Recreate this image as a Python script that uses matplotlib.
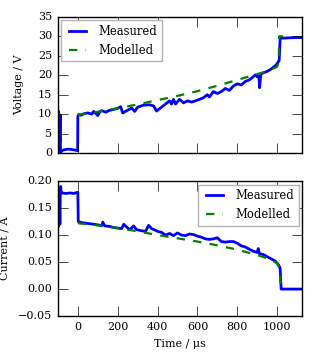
import matplotlib
matplotlib.use("Agg")
import matplotlib.pyplot as plt

# measured voltage (time in us, volts)
t_vm = [-100, -99, -98, -97, -96, -95, -94, -93, -92, -91, -89, -88, -87, -84, -80, -70, -50, -30, -10, -1,
        0, 5, 15, 30, 50, 70, 80, 90, 100, 110, 120, 140, 160, 180, 200, 215, 225, 235, 250, 270, 285,
        300, 330, 360, 380, 395, 420, 440, 460, 470, 480, 490, 510, 530, 550, 570, 590, 610, 630, 650,
        660, 680, 700, 720, 740, 760, 780, 800, 820, 840, 860, 880, 890, 900, 908, 912, 918, 930, 950,
        970, 990, 1000, 1010, 1013, 1015, 1050, 1100, 1125]
v_m = [10.5, 1.0, 10.8, 2.0, 10.0, 0.5, 9.8, 1.0, 9.5, 3.0, 9.8, 5.0, 0.3, 0.2, 0.6, 0.8, 1.0, 0.9, 0.7, 0.6,
       9.5, 9.9, 9.7, 10.1, 10.3, 10.0, 10.7, 10.2, 9.6, 10.6, 10.9, 10.5, 11.0, 11.2, 11.5, 11.9, 10.3, 10.6, 11.0, 11.6, 10.7,
       11.8, 12.3, 12.4, 12.1, 10.8, 11.8, 12.6, 13.4, 12.6, 13.8, 12.6, 13.8, 12.9, 13.4, 13.1, 13.4, 13.8, 14.2, 15.0,
       14.4, 15.8, 15.3, 15.8, 16.6, 16.1, 17.2, 17.8, 17.5, 18.4, 18.8, 19.6, 20.1, 19.6, 19.8, 16.8, 20.3, 20.6, 21.0,
       21.6, 22.4, 23.0, 23.8, 27.0, 29.5, 29.6, 29.7, 29.7]

# modelled voltage
t_vmod = [0, 100, 200, 300, 400, 500, 600, 700, 800, 900, 950, 1000, 1008, 1010, 1030]
v_mod = [9.8, 10.6, 11.5, 12.5, 13.6, 14.7, 15.9, 17.3, 18.8, 20.3, 21.0, 22.2, 23.5, 30.0, 30.0]

# measured current (A)
t_im = [-100, -99, -98, -97, -96, -95, -94, -93, -92, -90, -88, -86, -84, -80, -60, -40, -20, -5, 0,
        2, 20, 40, 60, 80, 100, 120, 125, 135, 160, 180, 200, 220, 230, 245, 260, 280, 295, 320, 340,
        355, 370, 400, 420, 440, 460, 480, 500, 520, 540, 560, 580, 600, 620, 640, 660, 680, 700, 720,
        740, 760, 780, 800, 820, 840, 860, 880, 900, 905, 910, 930, 950, 970, 990, 1000, 1010, 1015,
        1020, 1050, 1125]
i_m = [0.140, 0.115, 0.180, 0.120, 0.170, 0.125, 0.175, 0.130, 0.165, 0.120, 0.175, 0.190, 0.180, 0.178, 0.177, 0.178, 0.177, 0.179, 0.179,
       0.125, 0.123, 0.122, 0.121, 0.120, 0.119, 0.117, 0.124, 0.117, 0.116, 0.114, 0.113, 0.112, 0.120, 0.115, 0.110, 0.117, 0.110, 0.108, 0.107,
       0.118, 0.112, 0.107, 0.105, 0.100, 0.103, 0.099, 0.104, 0.100, 0.099, 0.102, 0.101, 0.098, 0.096, 0.093, 0.092, 0.093, 0.095, 0.088,
       0.087, 0.088, 0.088, 0.085, 0.080, 0.078, 0.074, 0.070, 0.068, 0.075, 0.066, 0.064, 0.060, 0.056, 0.052, 0.048, 0.043, 0.038,
       0.000, 0.000, 0.000]

# modelled current
t_imod = [0, 100, 200, 300, 400, 500, 600, 700, 800, 900, 950, 1000, 1010, 1020]
i_mod = [0.122, 0.118, 0.113, 0.107, 0.100, 0.094, 0.088, 0.081, 0.073, 0.063, 0.057, 0.048, 0.040, 0.000]

plt.style.use('classic')
plt.rcParams['font.family'] = 'DejaVu Serif'
plt.rcParams['font.size'] = 8
plt.rcParams['xtick.major.size'] = 7
plt.rcParams['ytick.major.size'] = 7

fig = plt.figure(figsize=(3.2, 3.6), dpi=100, facecolor='white')
ax1 = fig.add_axes([0.181, 0.575, 0.763, 0.378])
ax2 = fig.add_axes([0.181, 0.122, 0.763, 0.375])

ax1.plot(t_vm, v_m, 'b-', lw=2, label='Measured')
ax1.plot(t_vmod, v_mod, 'g--', lw=1.6, label='Modelled')
ax1.set_xlim(-100, 1125)
ax1.set_ylim(0, 35)
ax1.set_ylabel('Voltage / V')
ax1.yaxis.set_label_coords(-0.14, 0.5)
ax1.set_xticks(range(0, 1001, 200))
ax1.set_xticklabels([])
leg1 = ax1.legend(loc='upper left', fontsize=8.3, borderaxespad=0.3)
leg1.get_frame().set_edgecolor('0.7')

ax2.plot(t_im, i_m, 'b-', lw=2, label='Measured')
ax2.plot(t_imod, i_mod, 'g--', lw=1.6, label='Modelled')
ax2.set_xlim(-100, 1125)
ax2.set_ylim(-0.05, 0.20)
ax2.set_xticks(range(0, 1001, 200))
ax2.set_ylabel('Current / A')
ax2.yaxis.set_label_coords(-0.2, 0.5)
ax2.set_xlabel('Time / μs', labelpad=5)
leg2 = ax2.legend(loc='upper right', fontsize=8.3, borderaxespad=0.3)
leg2.get_frame().set_edgecolor('0.7')

fig.savefig('out.png', dpi=100, facecolor='white')
